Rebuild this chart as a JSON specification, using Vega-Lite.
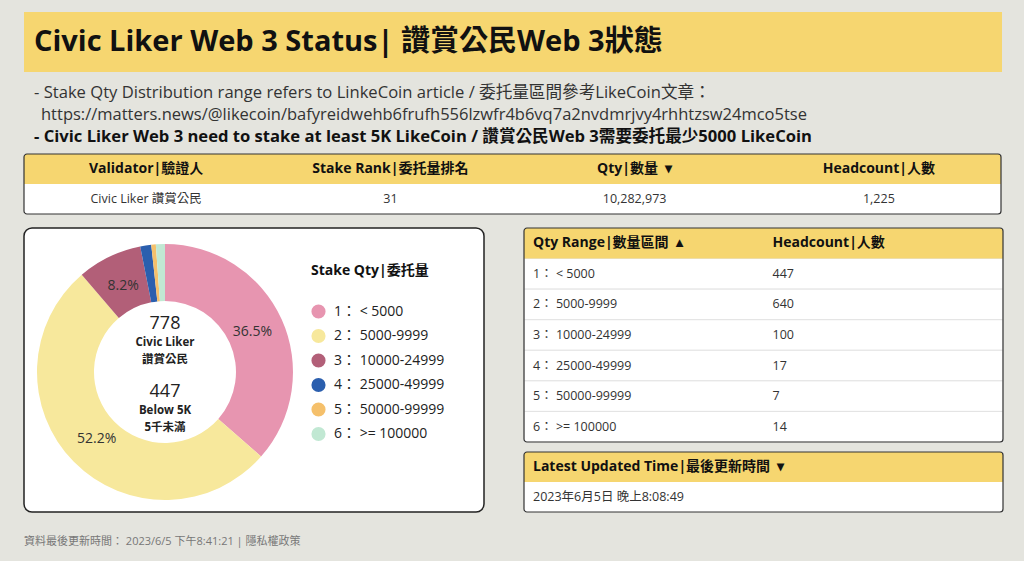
{
  "$schema": "https://vega.github.io/schema/vega-lite/v6.json",
  "background": "#e4e4de",
  "padding": {"left": 23, "top": 12, "right": 20, "bottom": 10},
  "config": {
    "font": "Open Sans, Noto Sans CJK TC, sans-serif",
    "view": {"stroke": null},
    "text": {"font": "Open Sans, Noto Sans CJK TC, sans-serif"},
    "legend": {"labelFont": "Open Sans, Noto Sans CJK TC, sans-serif", "titleFont": "Open Sans, Noto Sans CJK TC, sans-serif"}
  },
  "datasets": {
    "notes": [
      {"line": 1, "text": "- Stake Qty Distribution range refers to LinkeCoin article / 委托量區間參考LikeCoin文章："},
      {"line": 2, "text": "https://matters.news/@likecoin/bafyreidwehb6frufh556lzwfr4b6vq7a2nvdmrjvy4rhhtzsw24mco5tse"},
      {"line": 3, "text": "- Civic Liker Web 3 need to stake at least 5K LikeCoin / 讚賞公民Web 3需要委托最少5000 LikeCoin"}
    ],
    "topHead": [
      {"col": "c1", "text": "Validator|驗證人"},
      {"col": "c2", "text": "Stake Rank|委托量排名"},
      {"col": "c3", "text": "Qty|數量\u00a0\u00a0▾"},
      {"col": "c4", "text": "Headcount|人數"}
    ],
    "topRow": [
      {"validator": "Civic Liker 讚賞公民", "rank": 31, "qty": 10282973, "headcount": 1225}
    ],
    "dist": [
      {"idx": 1, "range": "1： < 5000", "count": 447, "label": "36.5%"},
      {"idx": 2, "range": "2： 5000-9999", "count": 640, "label": "52.2%"},
      {"idx": 3, "range": "3： 10000-24999", "count": 100, "label": "8.2%"},
      {"idx": 4, "range": "4： 25000-49999", "count": 17, "label": ""},
      {"idx": 5, "range": "5： 50000-99999", "count": 7, "label": ""},
      {"idx": 6, "range": "6： >= 100000", "count": 14, "label": ""}
    ],
    "qtyHead": [
      {"col": "a", "text": "Qty Range|數量區間\u00a0\u00a0▴"},
      {"col": "b", "text": "Headcount|人數"}
    ],
    "updated": [
      {"row": "h", "text": "Latest Updated Time|最後更新時間\u00a0\u00a0▾"},
      {"row": "d", "text": "2023年6月5日 晚上8:08:49"}
    ],
    "footer": [
      {"text": "資料最後更新時間：  2023/6/5 下午8:41:21  |  隱私權政策"}
    ]
  },
  "spacing": 12,
  "vconcat": [
    {
      "spacing": 10,
      "vconcat": [
        {
          "width": 978,
          "height": 60,
          "view": {"fill": "#f6d670", "stroke": null},
          "data": {"values": [{"title": "Civic Liker Web 3 Status| 讚賞公民Web 3狀態"}]},
          "mark": {"type": "text", "align": "left", "baseline": "middle", "fontSize": 29, "fontWeight": "bold", "color": "#111", "dx": 10},
          "encoding": {
            "x": {"datum": 0, "type": "quantitative", "scale": {"domain": [0, 1]}, "axis": null},
            "y": {"datum": 0.5, "type": "quantitative", "scale": {"domain": [0, 1]}, "axis": null},
            "text": {"field": "title"}
          }
        },
        {
          "spacing": 5,
          "vconcat": [
            {
              "width": 977,
              "height": 66,
              "data": {"name": "notes"},
              "encoding": {
                "x": {"datum": 0, "type": "quantitative", "scale": {"domain": [0, 1]}, "axis": null},
                "y": {"field": "line", "type": "ordinal", "scale": {"type": "band", "domain": [1, 2, 3], "paddingInner": 0, "paddingOuter": 0}, "axis": null},
                "text": {"field": "text"}
              },
              "layer": [
                {"transform": [{"filter": "datum.line == 1"}], "mark": {"type": "text", "align": "left", "baseline": "middle", "fontSize": 16.6, "color": "#333", "dx": 10}},
                {"transform": [{"filter": "datum.line == 2"}], "mark": {"type": "text", "align": "left", "baseline": "middle", "fontSize": 16.5, "color": "#333", "dx": 17}},
                {"transform": [{"filter": "datum.line == 3"}], "mark": {"type": "text", "align": "left", "baseline": "middle", "fontSize": 16.6, "fontWeight": "bold", "color": "#111", "dx": 10}}
              ]
            },
            {
              "width": 977,
              "height": 60,
              "view": {"fill": "white", "stroke": null},
              "layer": [
                {
                  "data": {"values": [{"row": "h"}]},
                  "mark": {"type": "rect", "color": "#f6d670", "cornerRadiusTopLeft": 3, "cornerRadiusTopRight": 3},
                  "encoding": {"y": {"field": "row", "type": "nominal", "scale": {"type": "band", "domain": ["h", "d"], "paddingInner": 0, "paddingOuter": 0}, "axis": null}}
                },
                {
                  "data": {"name": "topHead"},
                  "mark": {"type": "text", "baseline": "middle", "fontSize": 14, "fontWeight": "bold", "color": "#111"},
                  "encoding": {
                    "x": {"field": "col", "type": "nominal", "scale": {"type": "band", "domain": ["c1", "c2", "c3", "c4"], "paddingInner": 0, "paddingOuter": 0}, "axis": null},
                    "y": {"datum": "h", "type": "nominal", "scale": {"type": "band", "domain": ["h", "d"], "paddingInner": 0, "paddingOuter": 0}, "axis": null},
                    "text": {"field": "text"}
                  }
                },
                {
                  "data": {"name": "topRow"},
                  "encoding": {
                    "y": {"datum": "d", "type": "nominal", "scale": {"type": "band", "domain": ["h", "d"], "paddingInner": 0, "paddingOuter": 0}, "axis": null}
                  },
                  "layer": [
                    {"mark": {"type": "text", "baseline": "middle", "fontSize": 12.5, "color": "#333"}, "encoding": {"x": {"datum": "c1", "type": "nominal", "axis": null}, "text": {"field": "validator"}}},
                    {"mark": {"type": "text", "baseline": "middle", "fontSize": 12.5, "color": "#333"}, "encoding": {"x": {"datum": "c2", "type": "nominal", "axis": null}, "text": {"field": "rank"}}},
                    {"mark": {"type": "text", "baseline": "middle", "fontSize": 12.5, "color": "#333"}, "encoding": {"x": {"datum": "c3", "type": "nominal", "axis": null}, "text": {"field": "qty", "type": "quantitative", "format": ","}}},
                    {"mark": {"type": "text", "baseline": "middle", "fontSize": 12.5, "color": "#333"}, "encoding": {"x": {"datum": "c4", "type": "nominal", "axis": null}, "text": {"field": "headcount", "type": "quantitative", "format": ","}}}
                  ]
                },
                {
                  "data": {"values": [{"b": 1}]},
                  "mark": {"type": "rect", "fill": null, "stroke": "#333", "strokeWidth": 1.2, "cornerRadius": 3},
                  "encoding": {}
                }
              ]
            }
          ]
        }
      ]
    },
    {
      "spacing": 38,
      "hconcat": [
        {
          "width": 460,
          "height": 284,
          "view": {"fill": "white", "stroke": "#222", "strokeWidth": 1.5, "cornerRadius": 8},
          "layer": [
            {
              "data": {"name": "dist"},
              "mark": {"type": "arc", "outerRadius": 128, "innerRadius": 71},
              "encoding": {
                "x": {"datum": 0.3065, "type": "quantitative", "scale": {"domain": [0, 1]}, "axis": null},
                "y": {"datum": 0.507, "type": "quantitative", "scale": {"domain": [0, 1], "reverse": true}, "axis": null},
                "theta": {"field": "count", "type": "quantitative", "stack": true},
                "order": {"field": "idx", "type": "quantitative"},
                "color": {
                  "field": "range",
                  "type": "nominal",
                  "scale": {
                    "domain": ["1： < 5000", "2： 5000-9999", "3： 10000-24999", "4： 25000-49999", "5： 50000-99999", "6： >= 100000"],
                    "range": ["#e795b0", "#f7e89c", "#b25f78", "#2b5fae", "#f5c06b", "#c1e8d3"]
                  },
                  "legend": {
                    "title": "Stake Qty|委托量",
                    "orient": "none",
                    "legendX": 287,
                    "legendY": 252,
                    "symbolType": "circle",
                    "symbolSize": 200,
                    "symbolStrokeWidth": 0,
                    "labelFontSize": 14,
                    "labelColor": "#222",
                    "titleFontSize": 14,
                    "titleFontWeight": "bold",
                    "titleColor": "#111",
                    "rowPadding": 9.5,
                    "titlePadding": 26,
                    "labelOffset": 8
                  }
                }
              }
            },
            {
              "data": {"name": "dist"},
              "mark": {"type": "text", "radius": 96, "fontSize": 14, "color": "#333"},
              "encoding": {
                "x": {"datum": 0.3065, "type": "quantitative", "scale": {"domain": [0, 1]}, "axis": null},
                "y": {"datum": 0.507, "type": "quantitative", "scale": {"domain": [0, 1], "reverse": true}, "axis": null},
                "theta": {"field": "count", "type": "quantitative", "stack": true},
                "order": {"field": "idx", "type": "quantitative"},
                "detail": {"field": "range", "type": "nominal"},
                "text": {"field": "label"}
              }
            },
            {
              "data": {"values": [{"t": "778"}]},
              "mark": {"type": "text", "fontSize": 18, "color": "#222", "dy": -48},
              "encoding": {
                "x": {"datum": 0.3065, "type": "quantitative", "axis": null},
                "y": {"datum": 0.507, "type": "quantitative", "axis": null},
                "text": {"field": "t"}
              }
            },
            {
              "data": {"values": [{"t": "Civic Liker"}]},
              "mark": {"type": "text", "fontSize": 11.5, "fontWeight": "bold", "color": "#222", "dy": -29},
              "encoding": {
                "x": {"datum": 0.3065, "type": "quantitative", "axis": null},
                "y": {"datum": 0.507, "type": "quantitative", "axis": null},
                "text": {"field": "t"}
              }
            },
            {
              "data": {"values": [{"t": "讚賞公民"}]},
              "mark": {"type": "text", "fontSize": 11.5, "fontWeight": "bold", "color": "#222", "dy": -12},
              "encoding": {
                "x": {"datum": 0.3065, "type": "quantitative", "axis": null},
                "y": {"datum": 0.507, "type": "quantitative", "axis": null},
                "text": {"field": "t"}
              }
            },
            {
              "data": {"values": [{"t": "447"}]},
              "mark": {"type": "text", "fontSize": 18, "color": "#222", "dy": 20},
              "encoding": {
                "x": {"datum": 0.3065, "type": "quantitative", "axis": null},
                "y": {"datum": 0.507, "type": "quantitative", "axis": null},
                "text": {"field": "t"}
              }
            },
            {
              "data": {"values": [{"t": "Below 5K"}]},
              "mark": {"type": "text", "fontSize": 11.5, "fontWeight": "bold", "color": "#222", "dy": 39},
              "encoding": {
                "x": {"datum": 0.3065, "type": "quantitative", "axis": null},
                "y": {"datum": 0.507, "type": "quantitative", "axis": null},
                "text": {"field": "t"}
              }
            },
            {
              "data": {"values": [{"t": "5千未滿"}]},
              "mark": {"type": "text", "fontSize": 11.5, "fontWeight": "bold", "color": "#222", "dy": 56},
              "encoding": {
                "x": {"datum": 0.3065, "type": "quantitative", "axis": null},
                "y": {"datum": 0.507, "type": "quantitative", "axis": null},
                "text": {"field": "t"}
              }
            }
          ]
        },
        {
          "spacing": 8,
          "vconcat": [
            {
              "width": 479,
              "height": 214,
              "view": {"fill": "white", "stroke": null},
              "encoding": {
                "y": {"field": "idx", "type": "ordinal", "scale": {"type": "band", "domain": [0, 1, 2, 3, 4, 5, 6], "paddingInner": 0, "paddingOuter": 0}, "axis": null}
              },
              "layer": [
                {
                  "data": {"name": "dist"},
                  "mark": {"type": "rect", "fill": "white", "stroke": "#e3e3e3", "strokeWidth": 1}
                },
                {
                  "data": {"values": [{"idx": 0}]},
                  "mark": {"type": "rect", "color": "#f6d670", "cornerRadiusTopLeft": 3, "cornerRadiusTopRight": 3}
                },
                {
                  "data": {"name": "qtyHead"},
                  "mark": {"type": "text", "align": "left", "baseline": "middle", "fontSize": 14, "fontWeight": "bold", "color": "#111", "dx": 9},
                  "encoding": {
                    "x": {"field": "col", "type": "nominal", "bandPosition": 0, "scale": {"type": "band", "domain": ["a", "b"], "paddingInner": 0, "paddingOuter": 0}, "axis": null},
                    "y": {"datum": 0, "type": "ordinal"},
                    "text": {"field": "text"}
                  }
                },
                {
                  "data": {"name": "dist"},
                  "mark": {"type": "text", "align": "left", "baseline": "middle", "fontSize": 12.5, "color": "#333", "dx": 9},
                  "encoding": {
                    "x": {"datum": "a", "type": "nominal", "bandPosition": 0, "axis": null},
                    "text": {"field": "range"}
                  }
                },
                {
                  "data": {"name": "dist"},
                  "mark": {"type": "text", "align": "left", "baseline": "middle", "fontSize": 12.5, "color": "#333", "dx": 9},
                  "encoding": {
                    "x": {"datum": "b", "type": "nominal", "bandPosition": 0, "axis": null},
                    "text": {"field": "count"}
                  }
                },
                {
                  "data": {"values": [{"b": 1}]},
                  "mark": {"type": "rect", "fill": null, "stroke": "#333", "strokeWidth": 1.2, "cornerRadius": 3},
                  "encoding": {"y": null}
                }
              ]
            },
            {
              "width": 479,
              "height": 60,
              "view": {"fill": "white", "stroke": null},
              "layer": [
                {
                  "data": {"values": [{"row": "h"}]},
                  "mark": {"type": "rect", "color": "#f6d670", "cornerRadiusTopLeft": 3, "cornerRadiusTopRight": 3},
                  "encoding": {"y": {"field": "row", "type": "nominal", "scale": {"type": "band", "domain": ["h", "d"], "paddingInner": 0, "paddingOuter": 0}, "axis": null}}
                },
                {
                  "data": {"name": "updated"},
                  "transform": [{"filter": "datum.row == 'h'"}],
                  "mark": {"type": "text", "align": "left", "baseline": "middle", "fontSize": 14, "fontWeight": "bold", "color": "#111", "dx": 9},
                  "encoding": {
                    "x": {"datum": 0, "type": "quantitative", "scale": {"domain": [0, 1]}, "axis": null},
                    "y": {"field": "row", "type": "nominal", "axis": null},
                    "text": {"field": "text"}
                  }
                },
                {
                  "data": {"name": "updated"},
                  "transform": [{"filter": "datum.row == 'd'"}],
                  "mark": {"type": "text", "align": "left", "baseline": "middle", "fontSize": 12.5, "color": "#333", "dx": 9},
                  "encoding": {
                    "x": {"datum": 0, "type": "quantitative", "scale": {"domain": [0, 1]}, "axis": null},
                    "y": {"field": "row", "type": "nominal", "axis": null},
                    "text": {"field": "text"}
                  }
                },
                {
                  "data": {"values": [{"b": 1}]},
                  "mark": {"type": "rect", "fill": null, "stroke": "#333", "strokeWidth": 1.2, "cornerRadius": 3},
                  "encoding": {}
                }
              ]
            }
          ]
        }
      ]
    },
    {
      "width": 977,
      "height": 28,
      "data": {"name": "footer"},
      "mark": {"type": "text", "align": "left", "baseline": "middle", "fontSize": 11, "color": "#777"},
      "encoding": {
        "x": {"datum": 0, "type": "quantitative", "scale": {"domain": [0, 1]}, "axis": null},
        "y": {"datum": 0.4, "type": "quantitative", "scale": {"domain": [0, 1]}, "axis": null},
        "text": {"field": "text"}
      }
    }
  ]
}
